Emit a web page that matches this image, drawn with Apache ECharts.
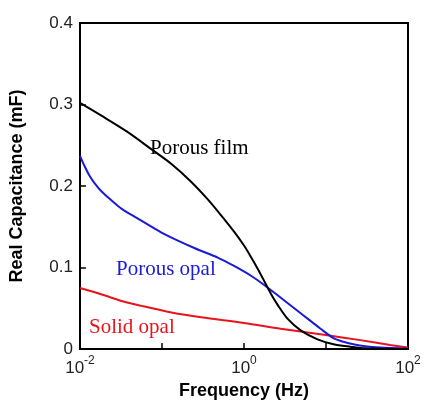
<!DOCTYPE html>
<html>
<head>
<meta charset="utf-8">
<script src="https://cdn.jsdelivr.net/npm/echarts@6/dist/echarts.min.js"></script>
<style>
  html, body { margin: 0; padding: 0; background: #fff; }
  #chart { width: 424px; height: 405px; }
</style>
</head>
<body>
<div id="chart"></div>
<script>
// Frequencies (Hz) and real capacitance (mF) for each sample
const filmFreq = [0.01, 0.01848, 0.03713, 0.07461, 0.1304, 0.2279, 0.3661, 0.5263, 0.7566, 1.0, 1.2156, 1.4784, 1.797, 2.125, 2.584, 3.415, 4.909, 7.889, 12.33, 19.82, 30.13, 100];
const filmCap  = [0.302, 0.286, 0.267, 0.245, 0.227, 0.205, 0.183, 0.164, 0.144, 0.127, 0.113, 0.098, 0.082, 0.068, 0.054, 0.037, 0.023, 0.012, 0.006, 0.003, 0.001, 0.0];

const opalFreq = [0.01, 0.01118, 0.01285, 0.0152, 0.01848, 0.02443, 0.03229, 0.04909, 0.0986, 0.2477, 0.4841, 0.7566, 1.2156, 1.7475, 2.809, 4.909, 8.577, 12.33, 16.30, 21.54, 30.13, 45.79, 100];
const opalCap  = [0.237, 0.226, 0.214, 0.203, 0.193, 0.182, 0.172, 0.161, 0.143, 0.124, 0.112, 0.102, 0.090, 0.079, 0.063, 0.044, 0.025, 0.0135, 0.009, 0.006, 0.0035, 0.002, 0.0005];

const solidFreq = [0.01, 0.01848, 0.03229, 0.0565, 0.1304, 0.3013, 1.0, 2.809, 10.42, 26.2, 60.5, 100];
const solidCap  = [0.075, 0.067, 0.059, 0.053, 0.045, 0.039, 0.032, 0.025, 0.017, 0.011, 0.005, 0.002];

const xLabelExponents = { '0.01': '-2', '1': '0', '100': '2' };
const yTicks = [0, 0.1, 0.2, 0.3, 0.4];

const pairs = (xs, ys) => xs.map((x, i) => [x, ys[i]]);

const chart = echarts.init(document.getElementById('chart'), null, { renderer: 'canvas' });

const labelFont = 'Liberation Sans, Arial, Helvetica, sans-serif';
const serifFont = 'Liberation Serif, Times New Roman, serif';
const blue = '#1a1ad8';
const red = '#e8141c';

chart.setOption({
  animation: false,
  backgroundColor: '#fff',
  grid: {
    left: 78, right: 16, top: 23, bottom: 52,
    show: true, borderColor: '#000', borderWidth: 2, containLabel: false
  },
  xAxis: {
    type: 'log', logBase: 10, min: 0.01, max: 100,
    name: 'Frequency (Hz)', nameLocation: 'middle', nameGap: 28,
    nameTextStyle: { fontFamily: labelFont, fontWeight: 'bold', fontSize: 18, color: '#000' },
    axisLine: { show: true, lineStyle: { color: '#000', width: 2 } },
    axisTick: { show: true, inside: true, length: 6, lineStyle: { color: '#000', width: 1.5 } },
    minorTick: { show: false },
    splitLine: { show: false },
    axisLabel: {
      margin: 6,
      formatter: function (v) {
        const key = String(+v.toPrecision(6));
        const e = xLabelExponents[key];
        return e === undefined ? '' : '{b|10}{s|' + e + '}';
      },
      rich: {
        b: { fontFamily: labelFont, fontSize: 17, color: '#222', lineHeight: 22, verticalAlign: 'bottom' },
        s: { fontFamily: labelFont, fontSize: 12, color: '#222', lineHeight: 22, verticalAlign: 'top' }
      }
    }
  },
  yAxis: {
    type: 'value', min: yTicks[0], max: yTicks[yTicks.length - 1], interval: 0.1,
    name: 'Real Capacitance (mF)', nameLocation: 'middle', nameGap: 54,
    nameTextStyle: { fontFamily: labelFont, fontWeight: 'bold', fontSize: 18, color: '#000' },
    axisLine: { show: true, lineStyle: { color: '#000', width: 2 } },
    axisTick: { show: true, inside: true, length: 6, lineStyle: { color: '#000', width: 1.5 } },
    splitLine: { show: false },
    axisLabel: {
      margin: 7, fontFamily: labelFont, fontSize: 17, color: '#222',
      formatter: function (v) { return v === 0 ? '0' : v.toFixed(1); }
    }
  },
  series: [
    {
      name: 'Porous film', type: 'line', data: pairs(filmFreq, filmCap),
      showSymbol: false, smooth: 0.3,
      lineStyle: { color: '#000', width: 2 }, z: 3
    },
    {
      name: 'Porous opal', type: 'line', data: pairs(opalFreq, opalCap),
      showSymbol: false, smooth: 0.3,
      lineStyle: { color: blue, width: 2 }, z: 2
    },
    {
      name: 'Solid opal', type: 'line', data: pairs(solidFreq, solidCap),
      showSymbol: false, smooth: 0.3,
      lineStyle: { color: red, width: 2 }, z: 1
    }
  ],
  graphic: [
    { type: 'text', left: 150, top: 138, style: { text: 'Porous film', font: '21px ' + serifFont, fill: '#000' } },
    { type: 'text', left: 116, top: 259, style: { text: 'Porous opal', font: '21px ' + serifFont, fill: blue } },
    { type: 'text', left: 89, top: 317, style: { text: 'Solid opal', font: '21px ' + serifFont, fill: red } }
  ]
});
</script>
</body>
</html>
